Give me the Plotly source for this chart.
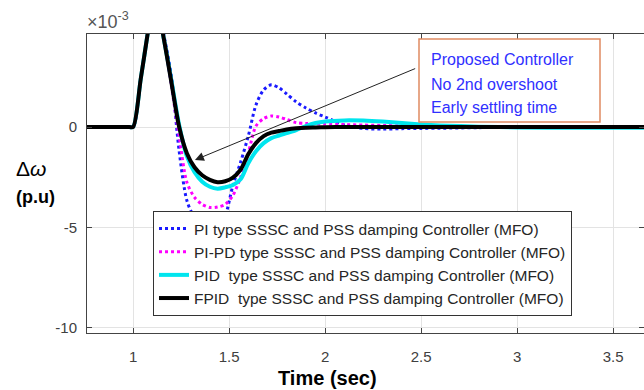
import plotly.graph_objects as go

# Time (sec)
time = [0.76, 0.98, 1.0, 1.04, 1.08, 1.11, 1.16, 1.20, 1.24, 1.28, 1.32, 1.36, 1.40, 1.44,
        1.48, 1.52, 1.56, 1.60, 1.64, 1.68, 1.72, 1.76, 1.80, 1.85, 1.90, 1.95, 2.0,
        2.1, 2.2, 2.3, 2.4, 2.5, 2.6, 2.8, 3.0, 3.3, 3.7]

# delta omega (x1e-3 p.u)
pi_mfo = [0, 0, 0, 2.4, 4.9, 6.8, 4.6, 2.5, -1.2, -3.65, -4.55, -5.15, -5.4, -5.2,
          -4.45, -2.9, -1.75, -0.45, 1.1, 1.85, 2.1, 1.95, 1.65, 1.25, 0.95, 0.7, 0.5,
          0.1, -0.07, -0.1, -0.08, -0.07, -0.06, -0.03, 0, 0, 0]
pipd_mfo = [0, 0, 0, 2.4, 4.9, 6.8, 4.4, 2.0, -0.45, -2.75, -3.5, -3.85, -4.0, -3.98,
            -3.85, -3.4, -2.5, -1.3, 0.05, 0.42, 0.55, 0.5, 0.38, 0.22, 0.18, 0.16, 0.15,
            0.12, 0.1, 0.08, 0.06, 0.04, 0.03, 0.01, 0, 0, 0]
pid_mfo = [0, 0, 0, 2.4, 4.9, 6.8, 4.4, 2.3, 0.1, -1.45, -2.25, -2.72, -2.97, -3.07,
           -3.0, -2.88, -2.6, -1.8, -1.2, -0.8, -0.55, -0.42, -0.3, -0.15, 0.05, 0.2, 0.28,
           0.33, 0.32, 0.27, 0.2, 0.13, 0.08, 0.02, -0.02, -0.04, -0.03]
fpid_mfo = [0, 0, 0, 2.4, 4.9, 6.8, 4.4, 2.2, 0.0, -1.3, -2.0, -2.4, -2.63, -2.75,
            -2.7, -2.52, -2.12, -1.35, -0.8, -0.45, -0.28, -0.2, -0.12, -0.06, -0.03, -0.02, -0.01,
            0, 0, 0, 0, 0, 0, 0, 0, 0, 0]

names = ["PI type SSSC and PSS damping Controller (MFO)",
         "PI-PD type SSSC and PSS damping Controller (MFO)",
         "PID  type SSSC and PSS damping Controller (MFO)",
         "FPID  type SSSC and PSS damping Controller (MFO)"]
series = [pi_mfo, pipd_mfo, pid_mfo, fpid_mfo]
colors = ["#1a1aff", "#ff00ff", "#00e5ee", "#000000"]
dashes = ["dot", "dot", "solid", "solid"]
widths = [3, 3, 4, 4]

x_ticks = [1, 1.5, 2, 2.5, 3, 3.5]
x_ticktext = ["1", "1.5", "2", "2.5", "3", "3.5"]
y_ticks = [-10, -5, 0]
y_ticktext = ["-10", "-5", "0"]

fig = go.Figure()
for nm, ys, c, d, w in zip(names, series, colors, dashes, widths):
    fig.add_trace(go.Scatter(x=time, y=ys, mode="lines", name=nm,
                             line=dict(color=c, dash=d, width=w, shape="spline", smoothing=0.8)))

font_main = "Liberation Sans, Arial, sans-serif"
fig.update_layout(
    width=644, height=390,
    margin=dict(l=87, r=0, t=34, b=57),
    paper_bgcolor="white", plot_bgcolor="white",
    font=dict(family=font_main, size=15, color="#404040"),
    showlegend=True,
    legend=dict(x=0.1185, y=0.408, xanchor="left", yanchor="top",
                bgcolor="white", bordercolor="#333333", borderwidth=1,
                font=dict(family=font_main, size=15.5, color="#262626"),
                tracegroupgap=0),
    xaxis=dict(range=[0.76, 3.661], tickvals=x_ticks, ticktext=x_ticktext,
               showgrid=True, gridcolor="#e3e3e3", gridwidth=1,
               showline=True, linecolor="#444444", linewidth=1, mirror="ticks",
               ticks="inside", ticklen=5, tickcolor="#444444",
               zeroline=False, ticklabelstandoff=10),
    yaxis=dict(range=[-10.25, 4.63], tickvals=y_ticks, ticktext=y_ticktext,
               showgrid=True, gridcolor="#e3e3e3", gridwidth=1,
               showline=True, linecolor="#444444", linewidth=1, mirror="ticks",
               ticks="inside", ticklen=5, tickcolor="#444444",
               zeroline=False, ticklabelstandoff=6),
)

# exponent label
fig.add_annotation(xref="paper", yref="paper", x=0, y=1, xanchor="left", yanchor="bottom",
                   yshift=0, xshift=-2, showarrow=False, text="×10<sup>-3</sup>",
                   font=dict(size=18, color="#555555", family=font_main))
# axis titles
fig.add_annotation(xref="paper", yref="paper", x=(327 - 87) / 557, y=0, yanchor="middle",
                   yshift=-45, showarrow=False, text="<b>Time (sec)</b>",
                   font=dict(size=20, color="#000000", family=font_main))
fig.add_annotation(xref="paper", yref="paper", x=0, y=(333 - 168) / 299, xanchor="center",
                   xshift=-56, showarrow=False, text="Δ<i>ω</i>",
                   font=dict(size=21, color="#000000", family=font_main))
fig.add_annotation(xref="paper", yref="paper", x=0, y=(333 - 197) / 299, xanchor="center",
                   xshift=-52, showarrow=False, text="<b>(p.u)</b>",
                   font=dict(size=18, color="#000000", family=font_main))

# arrow
fig.add_annotation(x=1.322, y=-1.64, ax=2.477, ay=2.94, xref="x", yref="y",
                   axref="x", ayref="y", text="", showarrow=True,
                   arrowhead=2, arrowsize=1.8, arrowwidth=1, arrowcolor="#222222")

# callout box
fig.add_shape(type="rect", xref="paper", yref="paper",
              x0=(419 - 87) / 557, x1=(600 - 87) / 557,
              y0=(333 - 122) / 299, y1=(333 - 39) / 299,
              line=dict(color="#e08a62", width=1.5), fillcolor="white", layer="above")
callout = ["Proposed Controller", "No 2nd overshoot", "Early settling time"]
callout_y = [59, 84, 108]
for txt, yy in zip(callout, callout_y):
    fig.add_annotation(xref="paper", yref="paper", x=(429 - 87) / 557, y=(333 - yy) / 299,
                       xanchor="left", yanchor="middle", showarrow=False, text=txt,
                       font=dict(size=16, color="#3030ff", family=font_main))

fig.write_html("out.html")
